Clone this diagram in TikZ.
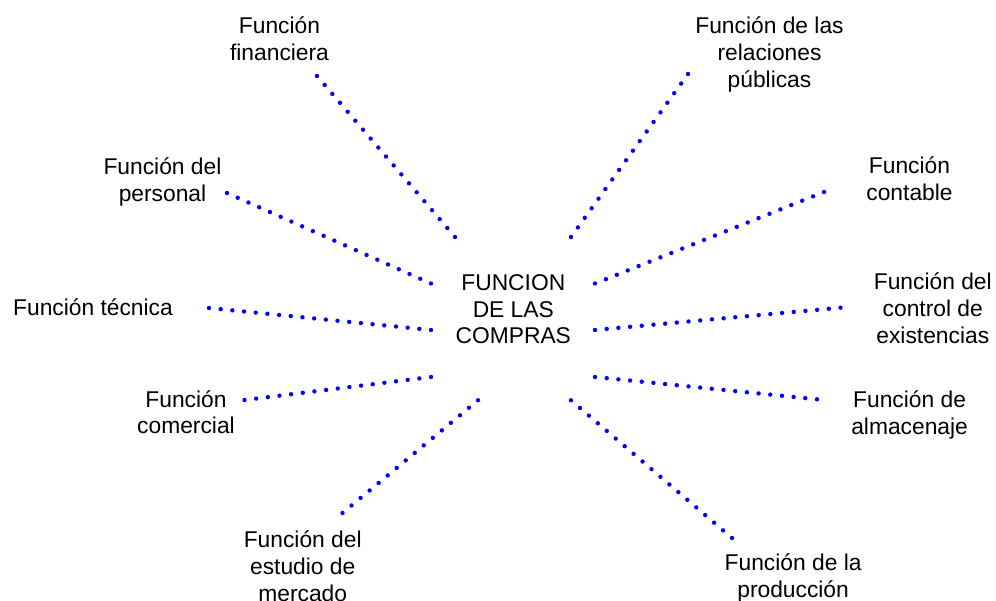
\documentclass[tikz,border=0pt]{standalone}
\usepackage{fontspec}
\setmainfont{Liberation Sans}
\usetikzlibrary{calc}
% a row of evenly spaced round dots from #1 to #2, #3 gaps
\newcommand\dotrow[3]{%
  \foreach \k in {0,...,#3}{\fill[dotfill] ($(#1)!\k/#3!(#2)$) circle[radius=2.2pt];}}

\begin{document}
\begin{tikzpicture}[x=1pt,y=-1pt,
  lbl/.style={align=center, font=\fontsize{22.8}{26.8}\selectfont,
              inner sep=0pt, anchor=base},
  dotfill/.style={fill=blue}]
\useasboundingbox (0,0) rectangle (996,601);

% central function (positions are the baseline of the last line)
\node[lbl] (compras) at (513.3,344) {FUNCION\\DE LAS\\COMPRAS};

% surrounding functions
\node[lbl] (fin)  at (279.5,60.5)  {Función\\financiera};
\node[lbl] (rel)  at (769.5,87.3)  {Función de las\\relaciones\\públicas};
\node[lbl] (per)  at (162.5,201.5) {Función del\\personal};
\node[lbl] (cont) at (909.5,200.7) {Función\\contable};
\node[lbl] (tec)  at (93,315.3)    {Función técnica};
\node[lbl] (ctrl) at (932.8,343.3) {Función del\\control de\\existencias};
\node[lbl] (com)  at (186,434)     {Función\\comercial};
\node[lbl] (alm)  at (909.6,434.2) {Función de\\almacenaje};
\node[lbl] (est)  at (302.7,601.3) {Función del\\estudio de\\mercado};
\node[lbl] (prod) at (793.1,597.5) {Función de la\\producción};

% end points of the dotted links
\coordinate (fin-a)  at (317,76);    \coordinate (fin-b)  at (455,237);
\coordinate (per-a)  at (227,193);   \coordinate (per-b)  at (431,283.5);
\coordinate (tec-a)  at (209,308);   \coordinate (tec-b)  at (431,330);
\coordinate (com-a)  at (244.5,400); \coordinate (com-b)  at (431,377);
\coordinate (est-a)  at (342.5,513); \coordinate (est-b)  at (478,400.3);
\coordinate (rel-a)  at (688,74);    \coordinate (rel-b)  at (571,237);
\coordinate (cont-a) at (824,192);   \coordinate (cont-b) at (595,283.5);
\coordinate (ctrl-a) at (840.5,307.7); \coordinate (ctrl-b) at (595,330);
\coordinate (alm-a)  at (817,399.3); \coordinate (alm-b)  at (595,377);
\coordinate (prod-a) at (732,538);   \coordinate (prod-b) at (571,400.3);

\dotrow{fin-a}{fin-b}{18}
\dotrow{per-a}{per-b}{19}
\dotrow{tec-a}{tec-b}{19}
\dotrow{com-a}{com-b}{16}
\dotrow{est-a}{est-b}{15}
\dotrow{rel-a}{rel-b}{17}
\dotrow{cont-a}{cont-b}{21}
\dotrow{ctrl-a}{ctrl-b}{21}
\dotrow{alm-a}{alm-b}{19}
\dotrow{prod-a}{prod-b}{18}
\end{tikzpicture}
\end{document}
